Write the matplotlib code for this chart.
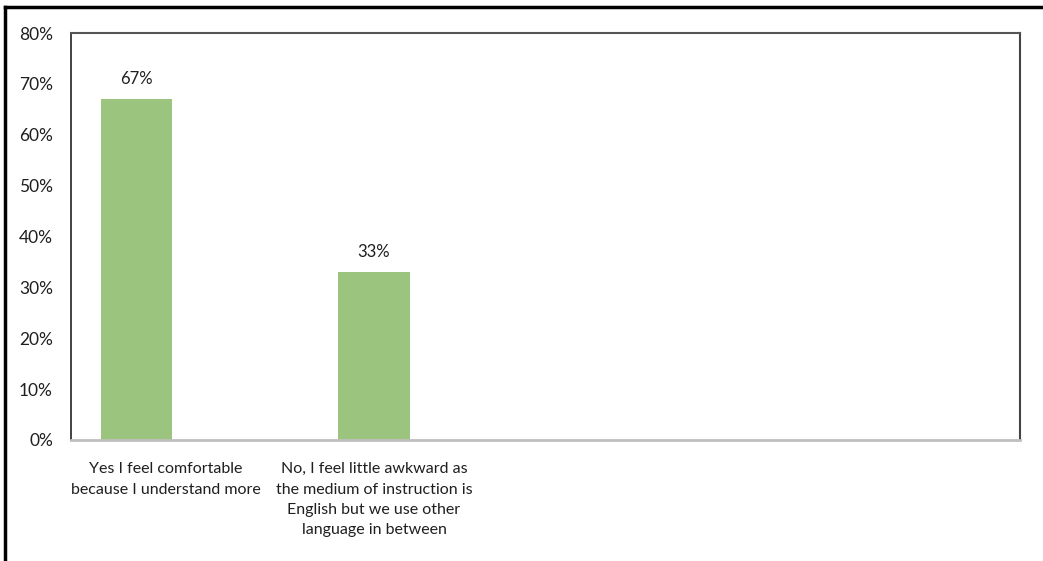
import matplotlib
matplotlib.use("Agg")
import matplotlib.pyplot as plt
from matplotlib.lines import Line2D

categories = [
    "Yes I feel comfortable\nbecause I understand more",
    "No, I feel little awkward as\nthe medium of instruction is\nEnglish but we use other\nlanguage in between",
]
values = [67, 33]
yticks = [0, 10, 20, 30, 40, 50, 60, 70, 80]

plt.rcParams["font.family"] = ["Lato", "DejaVu Sans"]

fig = plt.figure(figsize=(10.43, 5.61), dpi=100)
ax = fig.add_axes([71 / 1043, 1 - 440 / 561, 949 / 1043, 407 / 561])

xs = list(range(len(values)))
bars = ax.bar(xs, values, width=0.30, color="#9BC47E")

for x, v in zip(xs, values):
    ax.annotate(f"{v}%", (x, v), xytext=(0, 9), textcoords="offset points",
                ha="center", va="bottom", fontsize=12, color="#1f1f1f")

ax.set_xlim(-0.276, 3.72)
ax.set_ylim(0, 80)
ax.set_yticks(yticks)
ax.set_yticklabels([f"{t}%" for t in yticks], fontsize=12.5, color="#1f1f1f")
ax.tick_params(axis="y", length=0, pad=13)

# labels sit a bit off the bar centre, like the original
ax.set_xticks([0.124, 1])
ax.set_xticklabels(categories, fontsize=11.5, color="#1f1f1f", linespacing=1.58)
ax.tick_params(axis="x", length=0, pad=16)

ax.spines["left"].set_color("#222222")
ax.spines["left"].set_linewidth(1.2)
ax.spines["top"].set_color("#555555")
ax.spines["top"].set_linewidth(1.5)
ax.spines["right"].set_color("#444444")
ax.spines["right"].set_linewidth(1.5)
ax.spines["bottom"].set_color("#BFBFBF")
ax.spines["bottom"].set_linewidth(2)

# outer frame (top and left edges only, as cropped in the original)
fig.add_artist(Line2D([5 / 1043, 1], [1 - 7 / 561, 1 - 7 / 561], color="black", lw=2.5))
fig.add_artist(Line2D([5 / 1043, 5 / 1043], [0, 1 - 7 / 561], color="black", lw=2.5))

fig.savefig("out.png", dpi=100)
